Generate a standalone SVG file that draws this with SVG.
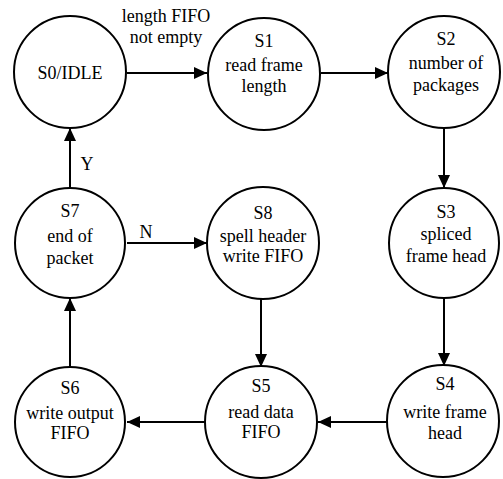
<svg xmlns="http://www.w3.org/2000/svg" width="503" height="479" viewBox="0 0 503 479">
<defs>
<marker id="ah" markerUnits="userSpaceOnUse" markerWidth="13" markerHeight="12" refX="13" refY="6" orient="auto">
<path d="M0,0 L13,6 L0,12 Z" fill="#000"/>
</marker>
</defs>
<rect width="503" height="479" fill="#fff"/>
<g id="connectors" stroke="#000" stroke-width="2" fill="none" marker-end="url(#ah)">
<line x1="127" y1="73" x2="207" y2="73"/>
<line x1="321" y1="73" x2="388" y2="73"/>
<line x1="444" y1="128" x2="444" y2="188"/>
<line x1="444" y1="298" x2="444" y2="366"/>
<line x1="387" y1="422" x2="318" y2="422"/>
<line x1="205" y1="422" x2="127" y2="422"/>
<line x1="70" y1="367" x2="70" y2="298"/>
<line x1="70" y1="188" x2="70" y2="128"/>
<line x1="127" y1="243" x2="207" y2="243"/>
<line x1="261" y1="298" x2="261" y2="367"/>
</g>
<g id="labels">
<text font-family="Times New Roman" font-size="18" text-anchor="middle" x="166" y="22">length FIFO</text>
<text font-family="Times New Roman" font-size="18" text-anchor="middle" x="166" y="43">not empty</text>
<text font-family="Times New Roman" font-size="18" text-anchor="middle" x="87" y="170">Y</text>
<text font-family="Times New Roman" font-size="18" text-anchor="middle" x="146" y="238">N</text>
</g>
<g id="S0"><circle fill="#fff" stroke="#000" stroke-width="2" cx="70" cy="72" r="56"/><text font-family="Times New Roman" font-size="18" text-anchor="middle" x="70" y="79">S0/IDLE</text></g>
<g id="S1"><circle fill="#fff" stroke="#000" stroke-width="2" cx="264" cy="74" r="56"/><text font-family="Times New Roman" font-size="18" text-anchor="middle" x="264" y="47">S1</text><text font-family="Times New Roman" font-size="18" text-anchor="middle" x="264" y="71">read frame</text><text font-family="Times New Roman" font-size="18" text-anchor="middle" x="264" y="92">length</text></g>
<g id="S2"><circle fill="#fff" stroke="#000" stroke-width="2" cx="444" cy="72" r="56"/><text font-family="Times New Roman" font-size="18" text-anchor="middle" x="446" y="45">S2</text><text font-family="Times New Roman" font-size="18" text-anchor="middle" x="446" y="69">number of</text><text font-family="Times New Roman" font-size="18" text-anchor="middle" x="446" y="91">packages</text></g>
<g id="S3"><circle fill="#fff" stroke="#000" stroke-width="2" cx="444" cy="243" r="55"/><text font-family="Times New Roman" font-size="18" text-anchor="middle" x="446" y="218">S3</text><text font-family="Times New Roman" font-size="18" text-anchor="middle" x="446" y="240">spliced</text><text font-family="Times New Roman" font-size="18" text-anchor="middle" x="446" y="262">frame head</text></g>
<g id="S4"><circle fill="#fff" stroke="#000" stroke-width="2" cx="443" cy="421" r="56"/><text font-family="Times New Roman" font-size="18" text-anchor="middle" x="445" y="390">S4</text><text font-family="Times New Roman" font-size="18" text-anchor="middle" x="445" y="418">write frame</text><text font-family="Times New Roman" font-size="18" text-anchor="middle" x="445" y="439">head</text></g>
<g id="S5"><circle fill="#fff" stroke="#000" stroke-width="2" cx="261" cy="422" r="56"/><text font-family="Times New Roman" font-size="18" text-anchor="middle" x="261" y="392">S5</text><text font-family="Times New Roman" font-size="18" text-anchor="middle" x="261" y="418">read data</text><text font-family="Times New Roman" font-size="18" text-anchor="middle" x="261" y="438">FIFO</text></g>
<g id="S6"><circle fill="#fff" stroke="#000" stroke-width="2" cx="70" cy="422" r="55"/><text font-family="Times New Roman" font-size="18" text-anchor="middle" x="70" y="394">S6</text><text font-family="Times New Roman" font-size="18" text-anchor="middle" x="70" y="419">write output</text><text font-family="Times New Roman" font-size="18" text-anchor="middle" x="70" y="439">FIFO</text></g>
<g id="S7"><circle fill="#fff" stroke="#000" stroke-width="2" cx="70" cy="243" r="55"/><text font-family="Times New Roman" font-size="18" text-anchor="middle" x="70" y="217">S7</text><text font-family="Times New Roman" font-size="18" text-anchor="middle" x="70" y="242">end of</text><text font-family="Times New Roman" font-size="18" text-anchor="middle" x="70" y="264">packet</text></g>
<g id="S8"><circle fill="#fff" stroke="#000" stroke-width="2" cx="263" cy="243" r="56"/><text font-family="Times New Roman" font-size="18" text-anchor="middle" x="263" y="219">S8</text><text font-family="Times New Roman" font-size="18" text-anchor="middle" x="263" y="242">spell header</text><text font-family="Times New Roman" font-size="18" text-anchor="middle" x="263" y="262">write FIFO</text></g>
</svg>
